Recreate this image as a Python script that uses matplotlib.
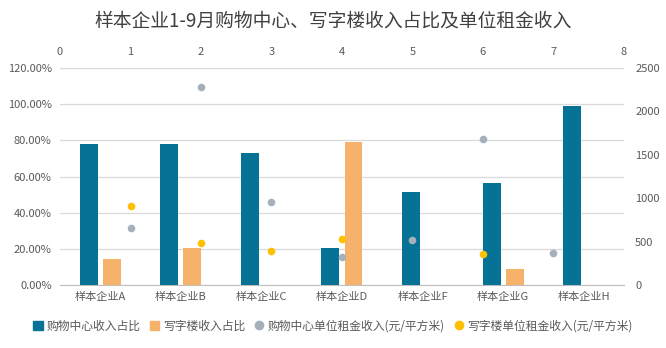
import matplotlib
matplotlib.use("Agg")
import matplotlib.pyplot as plt
from matplotlib.lines import Line2D
from matplotlib.patches import Patch
import numpy as np

plt.rcParams["font.family"] = ["Noto Sans CJK SC", "DejaVu Sans"]

companies = ["样本企业A", "样本企业B", "样本企业C", "样本企业D", "样本企业F", "样本企业G", "样本企业H"]
mall_share = [78.0, 78.0, 73.0, 20.5, 51.4, 56.4, 99.0]
office_share = [14.4, 20.6, 0.0, 79.1, 0.0, 8.8, 0.0]
mall_rent = [660, 2280, 960, 326, 515, 1678, 369]
office_rent = [907, 480, 392, 534, None, 353, None]

BLUE = "#067396"
ORANGE = "#F6B26B"
GREY = "#A5B0BB"
YELLOW = "#FFC000"
TEXT = "#595959"

fig = plt.figure(figsize=(6.66, 3.48), dpi=100)
ax = fig.add_axes([0.0901, 0.181, 0.8468, 0.6236])

x = np.arange(len(companies)) + 0.5
width = 0.223
offset = 0.143
ax.bar(x - offset, mall_share, width, color=BLUE, zorder=3)
ax.bar(x + offset, office_share, width, color=ORANGE, zorder=3)

ax.set_xlim(0, len(companies))
ax.set_ylim(0, 120)
ax.set_yticks(np.arange(0, 121, 20))
ax.set_yticklabels([f"{v:.2f}%" for v in np.arange(0, 121, 20)])
ax.set_xticks(x)
ax.set_xticklabels(companies)
ax.grid(axis="y", color="#D9D9D9", linewidth=0.9, zorder=0)
ax.tick_params(axis="y", length=0, labelsize=8, colors=TEXT, pad=6)
ax.tick_params(axis="x", length=0, labelsize=8, colors=TEXT, pad=5)
for side in ["top", "right", "left"]:
    ax.spines[side].set_visible(False)
ax.spines["bottom"].set_color("#BFBFBF")

# right axis for unit rent, top axis for point positions
ax2 = ax.twinx()
ax2.set_ylim(0, 2500)
ax2.set_yticks(np.arange(0, 2501, 500))
ax2.tick_params(axis="y", length=0, labelsize=8, colors=TEXT, pad=8)
for side in ax2.spines:
    ax2.spines[side].set_visible(False)

ax3 = ax2.twiny()
ax3.set_xlim(0, 8)
ax3.set_xticks(range(9))
ax3.tick_params(axis="x", length=0, labelsize=8, colors=TEXT, pad=8)
for side in ax3.spines:
    ax3.spines[side].set_visible(False)

pos = np.arange(1, len(companies) + 1)
ax3.scatter(pos, mall_rent, s=30, color=GREY, zorder=4, linewidths=0)
oy = [v if v is not None else np.nan for v in office_rent]
ax3.scatter(pos, oy, s=30, color=YELLOW, zorder=4, linewidths=0)

fig.text(0.5, 0.94, "样本企业1-9月购物中心、写字楼收入占比及单位租金收入",
         ha="center", va="center", fontsize=13.5, color="#404040")

handles = [
    Patch(color=BLUE, label="购物中心收入占比"),
    Patch(color=ORANGE, label="写字楼收入占比"),
    Line2D([], [], marker="o", linestyle="", color=GREY, markersize=6, label="购物中心单位租金收入(元/平方米)"),
    Line2D([], [], marker="o", linestyle="", color=YELLOW, markersize=6, label="写字楼单位租金收入(元/平方米)"),
]
fig.legend(handles=handles, loc="center", bbox_to_anchor=(0.5, 0.063), ncol=4,
           frameon=False, fontsize=8.5, handlelength=0.8, handleheight=0.8,
           handletextpad=0.3, columnspacing=0.8, labelcolor=TEXT)

fig.savefig("out.png", dpi=100)
